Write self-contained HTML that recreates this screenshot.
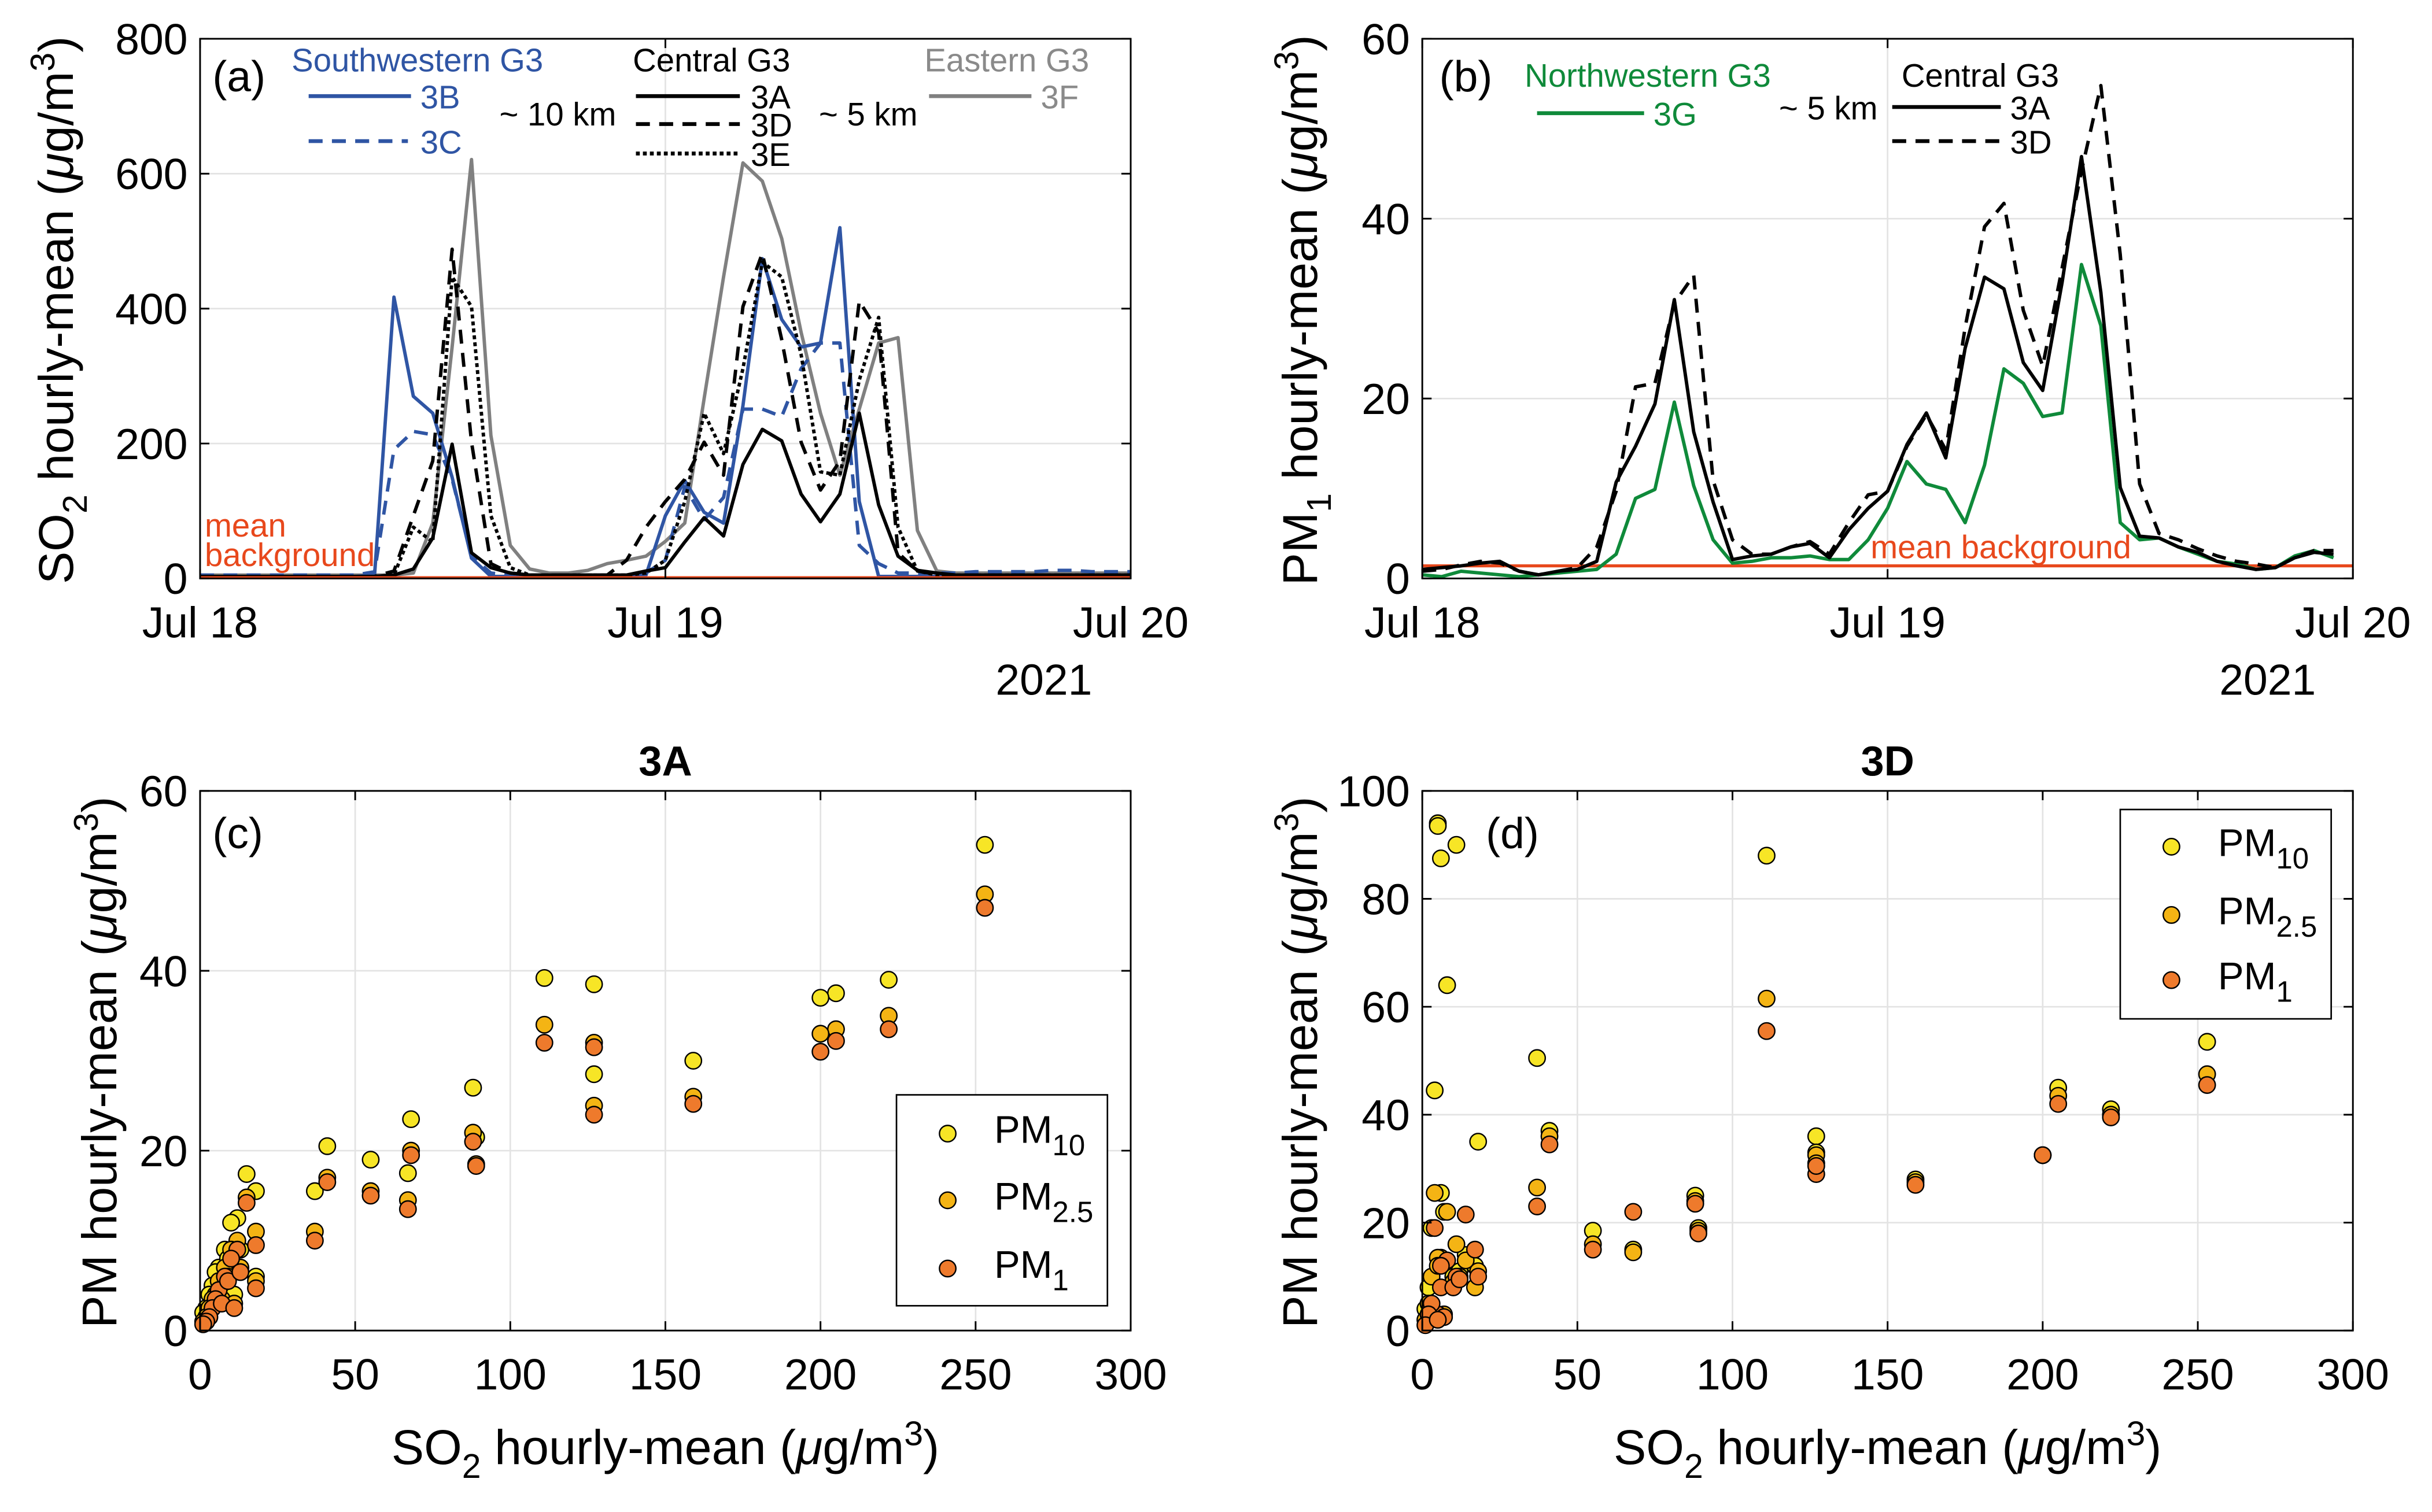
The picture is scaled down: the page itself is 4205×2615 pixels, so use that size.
<!DOCTYPE html>
<html><head><meta charset="utf-8"><style>
html,body{margin:0;padding:0;background:#fff;}
svg{display:block;font-family:"Liberation Sans",Arial,sans-serif;}
</style></head><body>
<svg id="fig" width="4205" height="2615" viewBox="0 0 1568 975" preserveAspectRatio="none" xmlns="http://www.w3.org/2000/svg">
<rect x="0" y="0" width="1568" height="975" fill="#fff"/>
<g id="gridA"></g>
<g id="gridB"></g>
<g id="gridC"></g>
<g id="gridD"></g>
<g id="marksA"></g>
<g id="marksB"></g>
<g id="marksC"></g>
<g id="marksD"></g>
<g id="axes"></g>

<!-- panel a labels -->
<text transform="translate(47,200) rotate(-90)" text-anchor="middle" font-size="31.5">SO<tspan font-size="22" dy="9">2</tspan><tspan dy="-9"> hourly-mean (</tspan><tspan font-style="italic">μ</tspan>g/m<tspan font-size="22" dy="-12">3</tspan><tspan dy="12">)</tspan></text>
<text x="137" y="59" font-size="28">(a)</text>
<text x="188" y="46" font-size="21" fill="#2f55a4">Southwestern G3</text>
<line x1="199" y1="62" x2="265" y2="62" stroke="#2f55a4" stroke-width="2.5"/>
<text x="271" y="70" font-size="21" fill="#2f55a4">3B</text>
<line x1="199" y1="91" x2="263" y2="91" stroke="#2f55a4" stroke-width="2.5" stroke-dasharray="9,6"/>
<text x="271" y="99" font-size="21" fill="#2f55a4">3C</text>
<text x="322" y="81" font-size="21">~ 10 km</text>
<text x="408" y="46" font-size="21">Central G3</text>
<line x1="410" y1="62" x2="477" y2="62" stroke="#000" stroke-width="2.5"/>
<text x="484" y="70" font-size="21">3A</text>
<line x1="410" y1="80" x2="477" y2="80" stroke="#000" stroke-width="2.5" stroke-dasharray="9,6"/>
<text x="484" y="88" font-size="21">3D</text>
<line x1="410" y1="99" x2="477" y2="99" stroke="#000" stroke-width="2.5" stroke-dasharray="2.5,2"/>
<text x="484" y="107" font-size="21">3E</text>
<text x="528" y="81" font-size="21">~ 5 km</text>
<text x="596" y="46" font-size="21" fill="#8a8a8a">Eastern G3</text>
<line x1="599" y1="62" x2="665" y2="62" stroke="#808080" stroke-width="2.5"/>
<text x="671" y="70" font-size="21" fill="#8a8a8a">3F</text>
<text x="132" y="346" font-size="21" fill="#e8481c">mean</text>
<text x="132" y="365" font-size="21" fill="#e8481c">background</text>
<text x="673" y="448" text-anchor="middle" font-size="28">2021</text>

<!-- panel b labels -->
<text transform="translate(849,200) rotate(-90)" text-anchor="middle" font-size="31.5">PM<tspan font-size="22" dy="9">1</tspan><tspan dy="-9"> hourly-mean (</tspan><tspan font-style="italic">μ</tspan>g/m<tspan font-size="22" dy="-12">3</tspan><tspan dy="12">)</tspan></text>
<text x="928" y="59" font-size="28">(b)</text>
<text x="983" y="56" font-size="21" fill="#0f8a3a">Northwestern G3</text>
<line x1="991" y1="73" x2="1060" y2="73" stroke="#0f8a3a" stroke-width="2.5"/>
<text x="1066" y="81" font-size="21" fill="#0f8a3a">3G</text>
<text x="1147" y="77" font-size="21">~ 5 km</text>
<text x="1226" y="56" font-size="21">Central G3</text>
<line x1="1220" y1="69" x2="1290" y2="69" stroke="#000" stroke-width="2.5"/>
<text x="1296" y="77" font-size="21">3A</text>
<line x1="1220" y1="91" x2="1290" y2="91" stroke="#000" stroke-width="2.5" stroke-dasharray="9,6"/>
<text x="1296" y="99" font-size="21">3D</text>
<text x="1206" y="360" font-size="21" fill="#e8481c">mean background</text>
<text x="1462" y="448" text-anchor="middle" font-size="28">2021</text>

<!-- panel c labels -->
<text x="429" y="500" text-anchor="middle" font-size="27" font-weight="bold">3A</text>
<text x="137" y="547" font-size="28">(c)</text>
<text transform="translate(75,685) rotate(-90)" text-anchor="middle" font-size="31.5">PM hourly-mean (<tspan font-style="italic">μ</tspan>g/m<tspan font-size="22" dy="-12">3</tspan><tspan dy="12">)</tspan></text>
<text x="429" y="944" text-anchor="middle" font-size="31.5">SO<tspan font-size="22" dy="9">2</tspan><tspan dy="-9"> hourly-mean (</tspan><tspan font-style="italic">μ</tspan>g/m<tspan font-size="22" dy="-12">3</tspan><tspan dy="12">)</tspan></text>
<g>
<rect x="578" y="706" width="136" height="136" fill="#fff" stroke="#000" stroke-width="1"/>
<circle cx="611" cy="731" r="5.3" fill="#f7e526" stroke="#000" stroke-width="0.9"/>
<text x="641" y="737" font-size="25">PM<tspan font-size="19" dy="8">10</tspan></text>
<circle cx="611" cy="774" r="5.3" fill="#f4b414" stroke="#000" stroke-width="0.9"/>
<text x="641" y="780" font-size="25">PM<tspan font-size="19" dy="8">2.5</tspan></text>
<circle cx="611" cy="818" r="5.3" fill="#ee7a2c" stroke="#000" stroke-width="0.9"/>
<text x="641" y="824" font-size="25">PM<tspan font-size="19" dy="8">1</tspan></text>
</g>

<!-- panel d labels -->
<text x="1217" y="500" text-anchor="middle" font-size="27" font-weight="bold">3D</text>
<text x="958" y="547" font-size="28">(d)</text>
<text transform="translate(849,685) rotate(-90)" text-anchor="middle" font-size="31.5">PM hourly-mean (<tspan font-style="italic">μ</tspan>g/m<tspan font-size="22" dy="-12">3</tspan><tspan dy="12">)</tspan></text>
<text x="1217" y="944" text-anchor="middle" font-size="31.5">SO<tspan font-size="22" dy="9">2</tspan><tspan dy="-9"> hourly-mean (</tspan><tspan font-style="italic">μ</tspan>g/m<tspan font-size="22" dy="-12">3</tspan><tspan dy="12">)</tspan></text>
<g>
<rect x="1367" y="522" width="136" height="135" fill="#fff" stroke="#000" stroke-width="1"/>
<circle cx="1400" cy="546" r="5.3" fill="#f7e526" stroke="#000" stroke-width="0.9"/>
<text x="1430" y="552" font-size="25">PM<tspan font-size="19" dy="8">10</tspan></text>
<circle cx="1400" cy="590" r="5.3" fill="#f4b414" stroke="#000" stroke-width="0.9"/>
<text x="1430" y="596" font-size="25">PM<tspan font-size="19" dy="8">2.5</tspan></text>
<circle cx="1400" cy="632" r="5.3" fill="#ee7a2c" stroke="#000" stroke-width="0.9"/>
<text x="1430" y="638" font-size="25">PM<tspan font-size="19" dy="8">1</tspan></text>
</g>
</svg>
<script>
// ---------- Panel (a): SO2 hourly means, hours 0..48 from Jul 18 ----------
const so2_3B = [3,3,3,3,3,3,3,3,3,5,417,270,245,150,30,3,3,3,3,3,3,3,3,5,93,145,98,82,256,474,384,343,349,520,114,3,3,3,3,3,3,3,3,3,3,3,3,3,3];
const so2_3C = [5,5,5,5,5,5,5,5,5,10,191,218,213,147,33,8,5,5,5,5,5,5,5,8,27,136,87,120,251,251,240,311,349,349,49,22,8,8,8,8,10,10,10,10,12,12,10,10,10];
const so2_3A = [3,3,3,3,3,3,3,3,3,3,5,14,60,199,38,16,8,5,5,5,5,5,5,11,16,54,90,63,169,221,204,125,84,125,245,109,33,12,8,5,5,5,5,5,5,5,5,5,5];
const so2_3D = [3,3,3,3,3,3,3,3,3,3,11,93,174,488,202,22,8,5,5,5,5,5,27,76,114,147,202,153,403,482,354,202,131,174,411,365,38,11,6,5,5,5,5,5,5,5,5,5,5];
const so2_3E = [3,3,3,3,3,3,3,3,3,3,5,76,54,447,403,93,16,5,5,5,5,5,5,8,27,114,245,185,311,469,447,332,158,153,294,387,76,11,5,5,5,5,5,5,5,5,5,5,5];
const so2_3F = [5,5,5,5,5,5,5,5,5,5,5,8,82,343,621,212,49,14,8,8,12,22,27,33,55,82,267,447,616,589,504,365,245,153,251,349,357,71,11,8,8,8,8,8,8,8,8,8,8];
const so2Background = 1;
const aYTicks = [0,200,400,600,800];
const timeTicks = ["Jul 18","Jul 19","Jul 20"];
// ---------- Panel (b): PM1 hourly means ----------
const pm1_3A = [1.0,1.2,1.4,1.7,1.9,0.8,0.4,0.8,1.0,1.9,10.7,14.7,19.4,31,16.3,8.5,2.1,2.5,2.7,3.5,3.9,2.3,5.4,7.8,9.7,14.9,18.4,13.4,25.6,33.5,32.2,24,20.9,32.9,46.9,31.8,10.1,4.7,4.5,3.5,2.9,1.9,1.4,1.0,1.2,2.3,2.9,2.7];
const pm1_3D = [0.8,1.0,1.5,1.9,1.7,0.8,0.4,0.8,1.2,3.5,9.7,21.3,21.7,30.6,33.7,10.9,4.3,2.7,2.7,3.5,4.1,2.7,6.2,9.3,9.7,14.7,18.2,14.3,27.9,39.1,41.7,29.8,23.6,34.5,45.3,54.8,36,10.5,5,4.3,3.3,2.5,1.9,1.6,1.2,2.3,3.1,3.1];
const pm1_3G = [0.4,0.2,0.8,0.6,0.4,0.2,0.4,0.6,0.8,1.0,2.7,8.9,9.9,19.6,10.3,4.3,1.7,1.9,2.3,2.3,2.5,2.1,2.1,4.3,7.8,13,10.5,9.9,6.2,12.6,23.3,21.7,18,18.4,34.9,28.1,6.2,4.3,4.5,3.5,2.7,1.9,1.6,1.0,1.2,2.5,3.1,2.3];
const pm1Background = 1.4;
const bYTicks = [0,20,40,60];
// ---------- Panel (c): 3A scatter ----------
const c_so2  = [253,222,205,200,159,127,127,111,88,89,68,67,55,41,37,18,18,15,12,10,8,6,5,4,3,2,1,7,11,9,13];
const c_pm10 = [54,39,37.5,37,30,38.5,28.5,39.2,27,21.5,23.5,17.5,19,20.5,15.5,15.5,6,17.4,12.5,12,9,7,6.5,5,4,2.5,2,5,4,8,9];
const c_pm25 = [48.5,35,33.5,33,26,32,25,34,22,18.5,20,14.5,15.5,17,11,11,5.5,14.8,10,9,7,5.5,4,3.5,2.5,1.5,1,3.5,3,6,7];
const c_pm1  = [47,33.5,32.2,31,25.2,31.5,24,32,21,18.3,19.5,13.5,15,16.5,10,9.5,4.7,14.2,9,8,6,4.5,3.5,2.5,1.5,1,0.7,3,2.5,5.5,6.5];
const cXTicks = [0,50,100,150,200,250,300];
const cYTicks = [0,20,40,60];
// ---------- Panel (d): 3D scatter ----------
const d_so2  = [253,222,205,200,159,127,127,111,88,89,68,55,41,37,18,17,14,11,8,6,5,4,3,2,1,6,10,12,7,5];
const d_pm10 = [53.5,41,45,32.5,28,36,33,88,25,19,15,18.5,37,50.5,35,12,14,90,64,87.5,94,44.5,19,8,4,25.5,10,11,22,93.5];
const d_pm25 = [47.5,40,43.5,32.5,27.5,32.5,31,61.5,24,18.5,14.5,16,36,26.5,11,8,13,16,22,13.5,13.5,25.5,10,5,2,12,9,10,3,12];
const d_pm1  = [45.5,39.5,42,32.5,27,29,30.5,55.5,23.5,18,22,15,34.5,23,10,15,21.5,10,13,12,3,19,5,3,1,8,8,9.5,2.5,2];
const dYTicks = [0,20,40,60,80,100];

const NS = "http://www.w3.org/2000/svg";
function el(tag, attrs, parent){ const e=document.createElementNS(NS,tag); for(const k in attrs) e.setAttribute(k,attrs[k]); parent.appendChild(e); return e; }
const axesG = document.getElementById('axes');

function linear(d0,d1,r0,r1){ return v => r0 + (v-d0)/(d1-d0)*(r1-r0); }

function drawFrame(L,T,R,B,gridG,xTicks,xLabels,xs,yTicks,ys,panel){
  const frame = el('rect',{x:L,y:T,width:R-L,height:B-T,fill:'none',stroke:'#000','stroke-width':1.1},axesG);
  
  
  xTicks.forEach((v,i)=>{
    const x=xs(v);
    if(x>L+1 && x<R-1){ el('line',{x1:x,y1:T,x2:x,y2:B,stroke:'#e3e3e3','stroke-width':1},gridG); }
    el('line',{x1:x,y1:B,x2:x,y2:B-6,stroke:'#000','stroke-width':1.1},axesG);
    el('line',{x1:x,y1:T,x2:x,y2:T+6,stroke:'#000','stroke-width':1.1},axesG);
    const t=el('text',{x:x,y:B+38,'text-anchor':'middle','font-size':28},axesG);
    t.textContent = xLabels[i];
    
    
  });
  yTicks.forEach(v=>{
    const y=ys(v);
    if(y>T+1 && y<B-1){ el('line',{x1:L,y1:y,x2:R,y2:y,stroke:'#e3e3e3','stroke-width':1},gridG); }
    el('line',{x1:L,y1:y,x2:L+6,y2:y,stroke:'#000','stroke-width':1.1},axesG);
    el('line',{x1:R,y1:y,x2:R-6,y2:y,stroke:'#000','stroke-width':1.1},axesG);
    const t=el('text',{x:L-8,y:y+10,'text-anchor':'end','font-size':28},axesG);
    t.textContent = String(v);
    
    
  });
}

function drawLine(g,vals,xs,ys,color,dash,name){
  const pts = vals.map((v,i)=>xs(i).toFixed(2)+','+ys(v).toFixed(2)).join(' ');
  const p = el('polyline',{points:pts,fill:'none',stroke:color,'stroke-width':2.2,'stroke-linejoin':'round'},g);
  if(dash) p.setAttribute('stroke-dasharray',dash);
  
  
}

// Panel a
(function(){
  const L=129,R=729,T=25,B=373;
  const xs = linear(0,48,L,R), ys = linear(0,800,B,T);
  drawFrame(L,T,R,B,document.getElementById('gridA'),[0,24,48],timeTicks,xs,aYTicks,ys,'a');
  const g=document.getElementById('marksA');
  drawLine(g,so2_3F,xs,ys,'#808080',null,'series-3f');
  drawLine(g,so2_3B,xs,ys,'#2f55a4',null,'series-3b');
  drawLine(g,so2_3C,xs,ys,'#2f55a4','9,6','series-3c');
  drawLine(g,so2_3A,xs,ys,'#000',null,'series-3a');
  drawLine(g,so2_3D,xs,ys,'#000','9,6','series-3d');
  drawLine(g,so2_3E,xs,ys,'#000','2.5,2','series-3e');
  const bg = el('line',{x1:L,x2:R,y1:ys(so2Background),y2:ys(so2Background),stroke:'#e8481c','stroke-width':2},g);
  
  
})();

// Panel b
(function(){
  const L=917,R=1517,T=25,B=373;
  const xs = linear(0,48,L,R), ys = linear(0,60,B,T);
  drawFrame(L,T,R,B,document.getElementById('gridB'),[0,24,48],timeTicks,xs,bYTicks,ys,'b');
  const g=document.getElementById('marksB');
  const bg = el('line',{x1:L,x2:R,y1:ys(pm1Background),y2:ys(pm1Background),stroke:'#e8481c','stroke-width':2},g);
  
  
  drawLine(g,pm1_3G,xs,ys,'#0f8a3a',null,'series-3g');
  drawLine(g,pm1_3A,xs,ys,'#000',null,'series-3a-pm1');
  drawLine(g,pm1_3D,xs,ys,'#000','9,6','series-3d-pm1');
})();

function scatter(g,xv,yv,xs,ys,color,name){
  xv.forEach((x,i)=>{
    const c = el('circle',{cx:xs(x).toFixed(2),cy:ys(yv[i]).toFixed(2),r:5.3,fill:color,stroke:'#000','stroke-width':0.9},g);
    
    
  });
}
// Panel c
(function(){
  const L=129,R=729,T=510,B=858;
  const xs = linear(0,300,L,R), ys = linear(0,60,B,T);
  drawFrame(L,T,R,B,document.getElementById('gridC'),cXTicks,cXTicks.map(String),xs,cYTicks,ys,'c');
  const g=document.getElementById('marksC');
  scatter(g,c_so2,c_pm10,xs,ys,'#f7e526','point-pm10');
  scatter(g,c_so2,c_pm25,xs,ys,'#f4b414','point-pm25');
  scatter(g,c_so2,c_pm1,xs,ys,'#ee7a2c','point-pm1');
})();
// Panel d
(function(){
  const L=917,R=1517,T=510,B=858;
  const xs = linear(0,300,L,R), ys = linear(0,100,B,T);
  drawFrame(L,T,R,B,document.getElementById('gridD'),cXTicks,cXTicks.map(String),xs,dYTicks,ys,'d');
  const g=document.getElementById('marksD');
  scatter(g,d_so2,d_pm10,xs,ys,'#f7e526','point-pm10');
  scatter(g,d_so2,d_pm25,xs,ys,'#f4b414','point-pm25');
  scatter(g,d_so2,d_pm1,xs,ys,'#ee7a2c','point-pm1');
})();
</script>
</body></html>
